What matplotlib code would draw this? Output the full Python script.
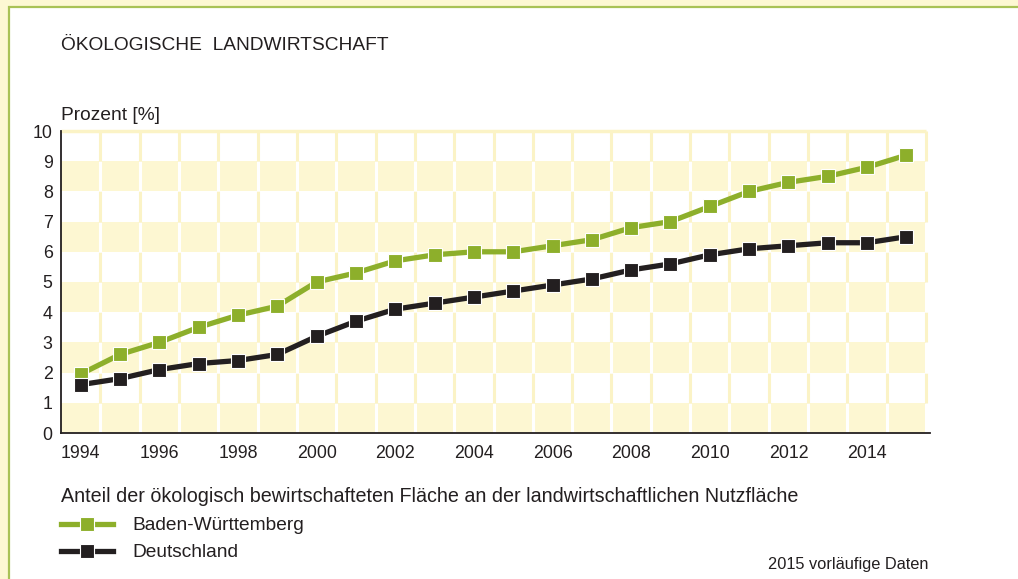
import matplotlib
matplotlib.use("Agg")
import matplotlib.pyplot as plt
from matplotlib.patches import Rectangle

years = list(range(1994, 2016))
bw_values = [1.95, 2.6, 3.0, 3.5, 3.9, 4.2, 5.0, 5.3, 5.7, 5.9, 6.0, 6.0, 6.2, 6.4, 6.8, 7.0, 7.5, 8.0, 8.3, 8.5, 8.8, 9.2]
de_values = [1.6, 1.8, 2.1, 2.3, 2.4, 2.6, 3.2, 3.7, 4.1, 4.3, 4.5, 4.7, 4.9, 5.1, 5.4, 5.6, 5.9, 6.1, 6.2, 6.3, 6.3, 6.5]
series_labels = ["Baden-Württemberg", "Deutschland"]
x_ticks = list(range(1994, 2015, 2))
y_ticks = list(range(0, 11))

GREEN = "#8DAF2B"
BLACK = "#231F20"
BAND = "#FDF7D2"
PALE = "#FBF3C6"
OUTER = "#FDF8D3"
BORDER = "#A9C256"
TEXT = "#231F20"

plt.rcParams["font.family"] = ["Liberation Sans", "DejaVu Sans"]

W, H = 1018, 579
fig = plt.figure(figsize=(W / 100, H / 100), dpi=100)
fig.patch.set_facecolor(OUTER)
panel = Rectangle((9 / W, -0.1), 1.2, 1.1 - 7 / H, transform=fig.transFigure,
                  facecolor="white", edgecolor=BORDER, lw=1.6, zorder=-5)
fig.patches.append(panel)

left, right, bottom, top = 61, 930, 433, 131
ax = fig.add_axes([left / W, 1 - bottom / H, (right - left) / W, (bottom - top) / H])
ax.set_facecolor("white")
ax.set_xlim(1993.5, 2015.6)
ax.set_ylim(0, 10)

# bands
sep_x = [y + 0.5 for y in range(1994, 2016)]
for i in range(10):
    if i % 2 == 0:
        ax.axhspan(i, i + 1, xmin=0, xmax=(2015.5 - 1993.5) / (2015.6 - 1993.5),
                   color=BAND, lw=0, zorder=0)
        ax.vlines(sep_x, i, i + 1, colors="white", lw=2.2, zorder=0.5)
    else:
        ax.vlines(sep_x, i, i + 1, colors=PALE, lw=2.2, zorder=0.5)
ax.plot([1993.5, 2015.5], [10, 10], color=PALE, lw=2.5, clip_on=False, zorder=0.5,
        solid_capstyle="butt")

l1, = ax.plot(years, bw_values, color=GREEN, lw=3.8, marker="s", ms=9.5,
              mfc=GREEN, mec="white", mew=0.8, zorder=3, label=series_labels[0])
l2, = ax.plot(years, de_values, color=BLACK, lw=3.8, marker="s", ms=9.5,
              mfc=BLACK, mec="white", mew=0.8, zorder=3, label=series_labels[1])

for s in ["top", "right"]:
    ax.spines[s].set_visible(False)
for s in ["left", "bottom"]:
    ax.spines[s].set_color(BLACK)
    ax.spines[s].set_linewidth(1.3)
    ax.spines[s].set_zorder(4)

ax.set_xticks(x_ticks)
ax.set_yticks(y_ticks)
ax.tick_params(axis="both", length=0, labelsize=12.8, colors=TEXT)
ax.tick_params(axis="y", pad=6)
ax.tick_params(axis="x", pad=9)

fig.text(61 / W, 1 - 45 / H, "ÖKOLOGISCHE  LANDWIRTSCHAFT", fontsize=13.8,
         color=TEXT, va="center", ha="left")
fig.text(61 / W, 1 - 115 / H, "Prozent [%]", fontsize=13.8, color=TEXT,
         va="center", ha="left")
fig.text(61 / W, 1 - 497 / H,
         "Anteil der ökologisch bewirtschafteten Fläche an der landwirtschaftlichen Nutzfläche",
         fontsize=14.2, color=TEXT, va="center", ha="left")
fig.text(929 / W, 1 - 565 / H, "2015 vorläufige Daten", fontsize=11.8, color=TEXT,
         va="center", ha="right")

leg = fig.legend(handles=[l1, l2], loc="upper left",
                 bbox_to_anchor=(61 / W, 1 - 517 / H), frameon=False,
                 borderaxespad=0, borderpad=0, handlelength=2.7, handletextpad=1.05,
                 labelspacing=0.5, numpoints=1, fontsize=13.8)
for t in leg.get_texts():
    t.set_color(TEXT)

fig.savefig("out.png", dpi=100, facecolor=fig.get_facecolor())
